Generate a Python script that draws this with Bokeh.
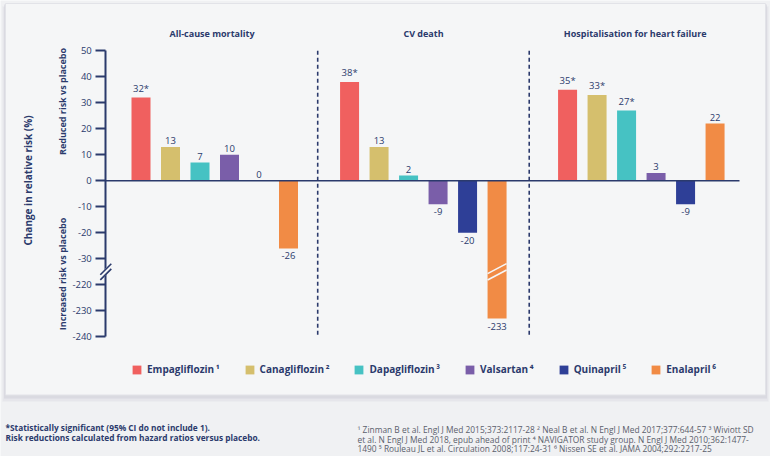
import math
from bokeh.plotting import figure
from bokeh.models import (Range1d, LinearAxis, FixedTicker, Label, Legend,
                          LegendItem, ColumnDataSource)
from bokeh.core.properties import value
from bokeh.embed import file_html
from bokeh.resources import INLINE

# ---------------- data ----------------
drugs = ["Empagliflozin", "Canagliflozin", "Dapagliflozin", "Valsartan", "Quinapril", "Enalapril"]
ref_marks = ["¹", "²", "³", "⁴", "⁵", "⁶"]
colors = ["#f0605f", "#d5bf6d", "#46c2c3", "#7a5ea9", "#2e3f97", "#f18b45"]
outcomes = ["All-cause mortality", "CV death", "Hospitalisation for heart failure"]
all_cause = [32, 13, 7, 10, 0, -26]
cv_death = [38, 13, 2, -9, -20, -233]
hf_hosp = [35, 33, 27, 3, -9, 22]
all_cause_sig = [True, False, False, False, False, False]
cv_death_sig = [True, False, False, False, False, False]
hf_hosp_sig = [True, True, True, False, False, False]
ticks_upper = [50, 40, 30, 20, 10, 0, -10, -20, -30]
ticks_lower = [-220, -230, -240]
series = [all_cause, cv_death, hf_hosp]
sigs = [all_cause_sig, cv_death_sig, hf_hosp_sig]

footnote_left = ["*Statistically significant (95% CI do not include 1).",
                 "Risk reductions calculated from hazard ratios versus placebo."]
footnote_right = [
    "¹ Zinman B et al. Engl J Med 2015;373:2117-28 ² Neal B et al. N Engl J Med 2017;377:644-57 ³ Wiviott SD",
    "et al. N Engl J Med 2018, epub ahead of print ⁴ NAVIGATOR study group. N Engl J Med 2010;362:1477-",
    "1490 ⁵ Rouleau JL et al. Circulation 2008;117:24-31 ⁶ Nissen SE et al. JAMA 2004;292:2217-25",
]

# ---------------- layout / style ----------------
FONT = "Open Sans"
NAVY = "#2b3a6c"
OUTER = "#f0f1f3"
CARD = "#f5f6f7"
W, H, MARGIN = 770, 456, 0
SLOT = 29.5        # px per bar slot
X_FIRST = 140.5    # page x of first bar centre
UNIT = 2.6         # px per percentage unit
Y_ZERO = 180.3     # page y of zero line
GROUP_OFFSETS = [0.0, 7.07, 14.46]
SEPARATORS = [5.99, 13.16]
BREAK_SHIFT = 180  # lower segment of the broken axis is shifted up by this
BREAK_AT = -35
BAR_W = 19 / SLOT


def ux(X):
    return (X - X_FIRST) / SLOT


def vy(Y):
    return (Y_ZERO - Y) / UNIT


def fold(v):
    return v + BREAK_SHIFT if v < -100 else v


p = figure(width=W, height=H,
           x_range=Range1d(ux(MARGIN), ux(MARGIN + W)),
           y_range=Range1d(vy(MARGIN + H), vy(MARGIN)),
           output_backend="svg", toolbar_location=None,
           x_axis_type=None, y_axis_type=None,
           min_border=0, min_border_left=0, min_border_right=0,
           min_border_top=0, min_border_bottom=0,
           background_fill_color=OUTER, border_fill_color=OUTER,
           outline_line_color=None)

# card with soft shadow
p.quad(left=ux(2), right=ux(768), top=vy(6), bottom=vy(401), fill_color="#d9dae2", fill_alpha=0.45, line_color=None)
p.quad(left=ux(3.5), right=ux(766.5), top=vy(4), bottom=vy(398), fill_color="#cdced8", fill_alpha=0.5, line_color=None)
p.quad(left=ux(5), right=ux(765), top=vy(3), bottom=vy(394.5), fill_color=CARD, line_color="#e2e3e8", line_width=1)

# bars
legend_items = []
for i, drug in enumerate(drugs):
    xs = [GROUP_OFFSETS[g] + i for g in range(3)]
    tops = [fold(series[g][i]) for g in range(3)]
    r = p.vbar(x=xs, top=tops, bottom=0, width=BAR_W, fill_color=colors[i], line_color=None)
    legend_items.append(LegendItem(label=drug + "\u2009" + ref_marks[i], renderers=[r]))

# bar labels
pos = dict(x=[], y=[], t=[])
neg = dict(x=[], y=[], t=[])
for g in range(3):
    for i in range(6):
        v = series[g][i]
        txt = str(v) + ("*" if sigs[g][i] else "")
        d = pos if v >= 0 else neg
        d["x"].append(GROUP_OFFSETS[g] + i)
        d["y"].append(fold(v) + (3 / UNIT if v >= 0 else -4 / UNIT))
        d["t"].append(txt)
p.text(x="x", y="y", text="t", source=ColumnDataSource(pos), text_align="center",
       text_baseline="bottom", text_color=NAVY,
       text_font=value(FONT), text_font_size="9.5px")
p.text(x="x", y="y", text="t", source=ColumnDataSource(neg), text_align="center",
       text_baseline="top", text_color=NAVY,
       text_font=value(FONT), text_font_size="9.5px")

# break marks on the broken bar
for g in range(3):
    for i in range(6):
        if series[g][i] < -100:
            bx = GROUP_OFFSETS[g] + i
            for dy in (3.2, -3.2):
                yc = BREAK_AT + dy / UNIT
                p.segment(x0=bx - BAR_W / 2, y0=yc - 5 / UNIT, x1=bx + BAR_W / 2, y1=yc + 5 / UNIT,
                          line_color=CARD, line_width=1.6)

# zero line
p.segment(x0=ux(105), y0=0, x1=ux(739), y1=0, line_color=NAVY, line_width=1.6)

# dashed panel separators
for s in SEPARATORS:
    p.segment(x0=s, y0=50, x1=s, y1=fold(-240), line_color=NAVY, line_width=1.6, line_dash="4 3")

# y axis (broken)
all_ticks = ticks_upper + ticks_lower
yaxis = LinearAxis(fixed_location=ux(105.3),
                   ticker=FixedTicker(ticks=[fold(t) for t in all_ticks]),
                   major_label_overrides={fold(t): str(t) for t in all_ticks},
                   bounds=(fold(-240), 50),
                   major_tick_out=10, major_tick_in=0, minor_tick_out=0, minor_tick_in=0,
                   axis_line_color=NAVY, axis_line_width=2,
                   major_tick_line_color=NAVY, major_tick_line_width=2,
                   major_label_text_color=NAVY, major_label_text_font=FONT,
                   major_label_text_font_size="9.5px",
                   major_label_standoff=4)
p.add_layout(yaxis, "left")

# axis break slashes
ax = ux(105.3)
mask = p.segment(x0=ax - 5.5 / SLOT, y0=BREAK_AT - 5.5 / UNIT, x1=ax + 5.5 / SLOT, y1=BREAK_AT + 5.5 / UNIT,
                 line_color=CARD, line_width=5)
mask.level = "overlay"
for dy in (2.6, -2.6):
    yc = BREAK_AT + dy / UNIT
    s = p.segment(x0=ax - 5.5 / SLOT, y0=yc - 5.5 / UNIT, x1=ax + 5.5 / SLOT, y1=yc + 5.5 / UNIT,
                  line_color=NAVY, line_width=1.6)
    s.level = "overlay"

# panel titles
title_x = [211.5, 423, 634.7]
for t, X in zip(outcomes, title_x):
    p.add_layout(Label(x=ux(X), y=vy(33), text=t, text_align="center", text_baseline="middle",
                       text_color=NAVY, text_font=FONT, text_font_size="9px", text_font_style="bold"))

# y labels
p.add_layout(Label(x=ux(27), y=vy(180), text="Change in relative risk (%)", angle=math.pi / 2,
                   text_align="center", text_baseline="middle", text_color=NAVY,
                   text_font=FONT, text_font_size="10px", text_font_style="bold"))
p.add_layout(Label(x=ux(62), y=vy(101), text="Reduced risk vs placebo", angle=math.pi / 2,
                   text_align="center", text_baseline="middle", text_color=NAVY,
                   text_font=FONT, text_font_size="9px", text_font_style="bold"))
p.add_layout(Label(x=ux(62), y=vy(273.5), text="Increased risk vs placebo", angle=math.pi / 2,
                   text_align="center", text_baseline="middle", text_color=NAVY,
                   text_font=FONT, text_font_size="9px", text_font_style="bold"))

# legend
legend = Legend(items=legend_items, orientation="horizontal", location=(131, 80),
                glyph_width=11, glyph_height=11, label_standoff=5, spacing=24,
                padding=0, margin=0, background_fill_alpha=0, border_line_alpha=0,
                label_text_font=FONT, label_text_font_size="10px", label_text_font_style="bold",
                label_text_color=NAVY, label_height=11)
p.add_layout(legend)

# footnotes
for t, Y in zip(footnote_left, [427.3, 437]):
    p.add_layout(Label(x=ux(5), y=vy(Y), text=t, text_align="left", text_baseline="alphabetic",
                       text_color=NAVY, text_font=FONT, text_font_size="8.3px", text_font_style="bold"))
for t, Y in zip(footnote_right, [428.8, 438.5, 447.5]):
    p.add_layout(Label(x=ux(357), y=vy(Y), text=t, text_align="left", text_baseline="alphabetic",
                       text_color="#5b606c", text_font=FONT, text_font_size="8.4px"))

open("out.html", "w").write(file_html(p, INLINE))
